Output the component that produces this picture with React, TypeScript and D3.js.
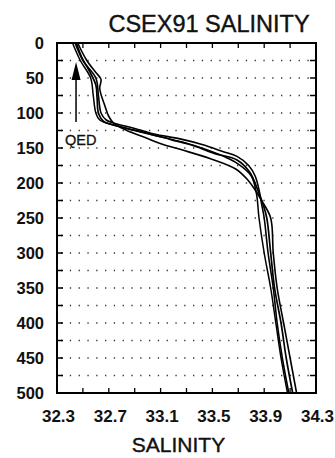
import React from "react";
import * as d3 from "d3";

const depths1 = [0, 25, 50, 75, 100, 110, 115, 122, 130, 137, 145, 155, 162, 175, 190, 210, 230, 250, 300, 350, 400, 450, 500];
const sal1 = [32.44, 32.5, 32.6, 32.62, 32.64, 32.68, 32.75, 32.9, 33.05, 33.25, 33.42, 33.58, 33.69, 33.78, 33.83, 33.86, 33.88, 33.9, 33.93, 33.97, 34.0, 34.04, 34.09];

const depths2 = [0, 25, 42, 52, 65, 90, 105, 115, 125, 135, 145, 153, 165, 180, 195, 210, 225, 250, 300, 350, 400, 450, 500];
const sal2 = [32.46, 32.53, 32.6, 32.64, 32.63, 32.67, 32.7, 32.74, 32.84, 32.98, 33.12, 33.27, 33.48, 33.68, 33.77, 33.83, 33.88, 33.95, 33.97, 34.0, 34.05, 34.1, 34.15];

const depths3 = [0, 25, 50, 75, 100, 110, 118, 126, 134, 142, 152, 163, 173, 190, 215, 250, 300, 350, 400, 450, 500];
const sal3 = [32.42, 32.48, 32.56, 32.58, 32.6, 32.63, 32.75, 32.92, 33.1, 33.28, 33.45, 33.6, 33.7, 33.8, 33.84, 33.86, 33.9, 33.95, 33.99, 34.03, 34.08];

const depths4 = [0, 20, 40, 60, 80, 100, 112, 120, 128, 138, 147, 158, 167, 185, 210, 230, 250, 300, 350, 400, 450, 500];
const sal4 = [32.45, 32.49, 32.55, 32.6, 32.61, 32.62, 32.66, 32.8, 32.98, 33.18, 33.36, 33.52, 33.69, 33.79, 33.85, 33.89, 33.92, 33.95, 33.98, 34.03, 34.07, 34.12];

const xTickLabels = [32.3, 32.7, 33.1, 33.5, 33.9, 34.3];
const xMinorTicks = [32.3, 32.5, 32.7, 32.9, 33.1, 33.3, 33.5, 33.7, 33.9, 34.1, 34.3];
const yTickLabels = [0, 50, 100, 150, 200, 250, 300, 350, 400, 450, 500];
const yMinorTicks = [25, 75, 125, 175, 225, 275, 325, 375, 425, 475];
const qedSalinity = 32.447;

const profiles = [
  { d: depths1, s: sal1, w: 1.6 },
  { d: depths2, s: sal2, w: 1.6 },
  { d: depths3, s: sal3, w: 1.5 },
  { d: depths4, s: sal4, w: 1.7 },
];

const L = 57, R = 316, T = 43, B = 393;
const FONT = "'Liberation Sans', Arial, Helvetica, sans-serif";

export default function App() {
  const x = d3.scaleLinear().domain([32.3, 34.3]).range([L, R]);
  const y = d3.scaleLinear().domain([0, 500]).range([T, B]);
  const line = d3
    .line<[number, number]>()
    .x((p) => x(p[1]))
    .y((p) => y(p[0]))
    .curve(d3.curveCatmullRom.alpha(0.5));

  const allY = [...yTickLabels, ...yMinorTicks];
  const gridY = allY.filter((v) => v > 0 && v < 500);
  const qx = x(qedSalinity);

  return (
    <svg width={335} height={458} style={{ position: "absolute", left: 0, top: 0, background: "#fff" }}>
      <text x={209} y={32} textAnchor="middle" fontFamily={FONT} fontSize={23.5} fill="#111" stroke="#111" strokeWidth={0.4}>
        CSEX91 SALINITY
      </text>
      {gridY.map((v) => (
        <line key={"g" + v} x1={L + 4} x2={R - 4} y1={y(v)} y2={y(v)} stroke="#333" strokeWidth={1.3} strokeDasharray="1.3 7.5" />
      ))}
      {allY.map((v) => (
        <g key={"yt" + v}>
          <line x1={L} x2={L + 6} y1={y(v)} y2={y(v)} stroke="#000" strokeWidth={1.5} />
          <line x1={R - 6} x2={R} y1={y(v)} y2={y(v)} stroke="#000" strokeWidth={1.5} />
        </g>
      ))}
      {xMinorTicks.map((v) => (
        <g key={"xt" + v}>
          <line x1={x(v)} x2={x(v)} y1={T} y2={T + 5} stroke="#000" strokeWidth={1.3} />
          <line x1={x(v)} x2={x(v)} y1={B - 5} y2={B} stroke="#000" strokeWidth={1.3} />
        </g>
      ))}
      <rect x={L} y={T} width={R - L} height={B - T} fill="none" stroke="#000" strokeWidth={2} />
      {yTickLabels.map((v) => (
        <text key={"yl" + v} x={44} y={y(v) + 6} textAnchor="end" fontFamily={FONT} fontWeight="bold" fontSize={16.5} fill="#111">
          {v}
        </text>
      ))}
      {xTickLabels.map((v) => (
        <text key={"xl" + v} x={x(v) + 1.5} y={422} textAnchor="middle" fontFamily={FONT} fontWeight="bold" fontSize={17} fill="#111">
          {v.toFixed(1)}
        </text>
      ))}
      <text x={178.5} y={452} textAnchor="middle" fontFamily={FONT} fontSize={21} fill="#111" stroke="#111" strokeWidth={0.4}>
        SALINITY
      </text>
      {profiles.map((p, i) => (
        <path
          key={"p" + i}
          d={line(p.d.map((d, j) => [d, p.s[j]] as [number, number])) || ""}
          fill="none"
          stroke="#000"
          strokeWidth={p.w}
        />
      ))}
      <line x1={qx} x2={qx} y1={78} y2={122} stroke="#000" strokeWidth={1.5} />
      <path d={`M${qx},${62} L${qx - 4.5},${80} L${qx + 4.5},${80} Z`} fill="#000" />
      <text x={65} y={145} fontFamily={FONT} fontSize={14.5} fill="#111" stroke="#111" strokeWidth={0.3}>
        QED
      </text>
    </svg>
  );
}
